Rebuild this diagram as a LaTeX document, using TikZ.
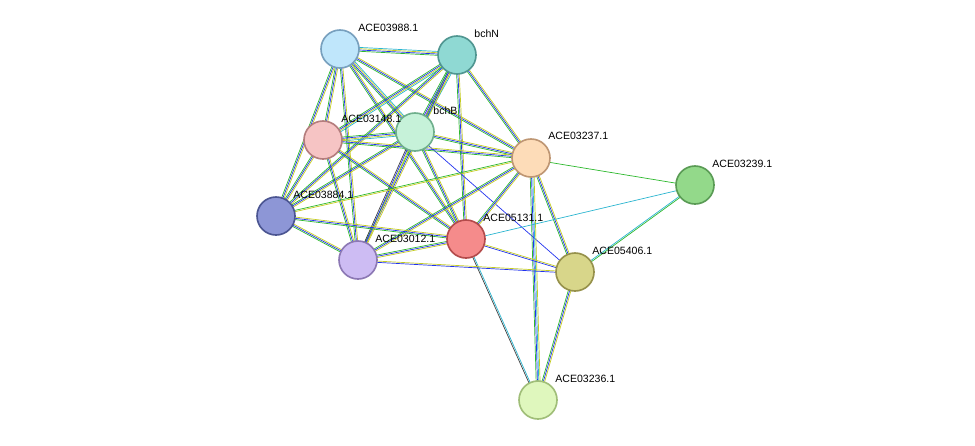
\documentclass[tikz,border=0pt]{standalone}
\usepackage{fontspec}
\setmainfont{Liberation Sans}
\usetikzlibrary{calc}
\definecolor{cgreen}{HTML}{2DB82D}
\definecolor{cblue}{HTML}{2233EE}
\definecolor{cyell}{HTML}{C4CC22}
\definecolor{ccyan}{HTML}{2BB5D0}
\definecolor{cpurp}{HTML}{B02DB0}
\definecolor{cblack}{HTML}{404040}
\tikzset{
  prot/.style={circle, minimum size=1.14cm, line width=1.4pt, inner sep=0pt},
  lab/.style={anchor=west, font=\fontsize{9}{10}\selectfont, inner sep=1pt},
  link/.style={line width=0.6pt}
}
% bundle of coloured lines between two coordinates
\newcommand{\edge}[3]{%
  \foreach \c [count=\i] in {#3}{%
    \draw[link,\c] ($(#1)!{(\i-2)*1.1pt}!90:(#2)$) -- ($(#2)!{(\i-2)*1.1pt}!-90:(#1)$);}}
\begin{document}
\begin{tikzpicture}[x=0.03cm,y=-0.03cm]
    \useasboundingbox (0,0) rectangle (975,446);
    % positions
    \coordinate (p3988) at (340,49);
    \coordinate (pN) at (457,55);
    \coordinate (pB) at (415,132);
    \coordinate (p3148) at (323,140);
    \coordinate (p3237) at (531,158);
    \coordinate (p3239) at (695,185);
    \coordinate (p3884) at (276,216);
    \coordinate (p5131) at (466,239);
    \coordinate (p3012) at (358,260);
    \coordinate (p5406) at (575,272);
    \coordinate (p3236) at (538,400);

    % links
    \edge{p3988}{pN}{cgreen,cblue,cyell,ccyan}
    \edge{p3988}{pB}{cgreen,cblue,cyell,ccyan}
    \edge{p3988}{p3148}{cgreen,cblue,cyell}
    \edge{p3988}{p3237}{cgreen,cblue,cyell}
    \edge{p3988}{p3884}{cgreen,cblue,cyell}
    \edge{p3988}{p5131}{cgreen,cblue,cyell}
    \edge{p3988}{p3012}{cgreen,cblue,cyell}
    \edge{pN}{pB}{cgreen,cblue,cpurp,cyell,ccyan}
    \edge{pN}{p3148}{cgreen,cblue,cyell,ccyan}
    \edge{pN}{p3237}{cgreen,cblue,cyell}
    \edge{pN}{p3884}{cgreen,cblue,cyell}
    \edge{pN}{p5131}{cgreen,cblue,cyell}
    \edge{pN}{p3012}{cgreen,cblue,cyell}
    \edge{pB}{p3148}{cgreen,cblue,cyell,ccyan}
    \edge{pB}{p3237}{cgreen,cblue,cyell}
    \edge{pB}{p3884}{cgreen,cblue,cyell}
    \edge{pB}{p5131}{cgreen,cblue,cyell}
    \edge{pB}{p3012}{cblack,cblue,cyell}
    \edge{pB}{p5406}{cblue}
    \edge{p3148}{p3237}{cgreen,cblue,cyell}
    \edge{p3148}{p3884}{cgreen,cblue,cyell}
    \edge{p3148}{p5131}{cgreen,cblue,cyell}
    \edge{p3148}{p3012}{cgreen,cblue,cyell}
    \edge{p3237}{p3884}{cgreen,cyell}
    \edge{p3237}{p5131}{cgreen,cblue,cyell}
    \edge{p3237}{p3012}{cgreen,cblue,cyell}
    \edge{p3237}{p5406}{cgreen,cblue,cyell}
    \edge{p3237}{p3236}{cgreen,cblue,ccyan,cyell}
    \edge{p3237}{p3239}{cgreen}
    \edge{p3884}{p5131}{cgreen,cblue,cyell}
    \edge{p3884}{p3012}{cgreen,cblue,cyell}
    \edge{p5131}{p3012}{cgreen,cblue,cyell}
    \edge{p5131}{p5406}{cblue,cyell}
    \edge{p5131}{p3236}{cblack,ccyan}
    \edge{p5131}{p3239}{ccyan}
    \edge{p3012}{p5406}{cblue,cyell}
    \edge{p5406}{p3239}{cgreen,ccyan}
    \edge{p5406}{p3236}{cgreen,cblue,cyell}

    % proteins
    \node[prot, fill={rgb,255:red,191;green,230;blue,251}, draw={rgb,255:red,120;green,160;blue,190}] (n3988) at (p3988) {};
    \node[prot, fill={rgb,255:red,143;green,217;blue,211}, draw={rgb,255:red,80;green,150;blue,145}] (nN) at (pN) {};
    \node[prot, fill={rgb,255:red,198;green,242;blue,217}, draw={rgb,255:red,110;green,175;blue,140}] (nB) at (pB) {};
    \node[prot, fill={rgb,255:red,246;green,196;blue,196}, draw={rgb,255:red,180;green,125;blue,125}] (n3148) at (p3148) {};
    \node[prot, fill={rgb,255:red,253;green,220;blue,184}, draw={rgb,255:red,190;green,150;blue,115}] (n3237) at (p3237) {};
    \node[prot, fill={rgb,255:red,147;green,217;blue,138}, draw={rgb,255:red,90;green,155;blue,85}] (n3239) at (p3239) {};
    \node[prot, fill={rgb,255:red,141;green,150;blue,214}, draw={rgb,255:red,75;green,85;blue,145}] (n3884) at (p3884) {};
    \node[prot, fill={rgb,255:red,245;green,139;blue,139}, draw={rgb,255:red,180;green,75;blue,75}] (n5131) at (p5131) {};
    \node[prot, fill={rgb,255:red,205;green,188;blue,243}, draw={rgb,255:red,140;green,120;blue,180}] (n3012) at (p3012) {};
    \node[prot, fill={rgb,255:red,216;green,214;blue,138}, draw={rgb,255:red,150;green,145;blue,75}] (n5406) at (p5406) {};
    \node[prot, fill={rgb,255:red,223;green,247;blue,189}, draw={rgb,255:red,160;green,190;blue,120}] (n3236) at (p3236) {};

    % labels
    \node[lab] (l3988) at ($(p3988)+(17,-21)$) {ACE03988.1};
    \node[lab] (lN) at ($(pN)+(16,-21)$) {bchN};
    \node[lab] (lB) at ($(pB)+(17,-21)$) {bchB};
    \node[lab] (l3148) at ($(p3148)+(17,-21)$) {ACE03148.1};
    \node[lab] (l3237) at ($(p3237)+(16,-22)$) {ACE03237.1};
    \node[lab] (l3239) at ($(p3239)+(16,-21)$) {ACE03239.1};
    \node[lab] (l3884) at ($(p3884)+(16,-21)$) {ACE03884.1};
    \node[lab] (l5131) at ($(p5131)+(16,-21)$) {ACE05131.1};
    \node[lab] (l3012) at ($(p3012)+(16,-21)$) {ACE03012.1};
    \node[lab] (l5406) at ($(p5406)+(16,-21)$) {ACE05406.1};
    \node[lab] (l3236) at ($(p3236)+(16,-21)$) {ACE03236.1};
\end{tikzpicture}
\end{document}
